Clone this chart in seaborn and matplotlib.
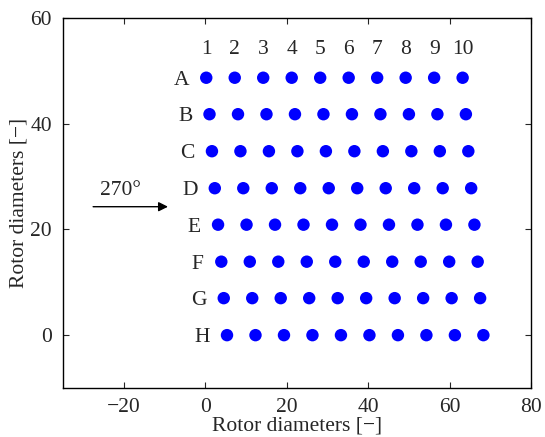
import matplotlib
matplotlib.use("Agg")
import matplotlib.pyplot as plt
import seaborn as sns
import pandas as pd

# Data
row_labels = ["A", "B", "C", "D", "E", "F", "G", "H"]
row_y = [48.7, 41.8, 34.8, 27.8, 20.9, 13.9, 7.0, 0.0]
row_shift = [0.2, 1.0, 1.6, 2.3, 3.1, 3.9, 4.5, 5.3]
col_labels = ["1", "2", "3", "4", "5", "6", "7", "8", "9", "10"]
col_x = [0, 7, 14, 21, 28, 35, 42, 49, 56, 63]
wind_label = "270°"

records = []
for r, y, s in zip(row_labels, row_y, row_shift):
    for c, x in zip(col_labels, col_x):
        records.append({"row": r, "col": c, "x": x + s, "y": y})
df = pd.DataFrame(records)

sns.set_style("ticks")
plt.rcParams["font.family"] = ["Liberation Serif", "DejaVu Serif"]

fig = plt.figure(figsize=(5.45, 4.37), dpi=100)
ax = fig.add_axes([0.1156, 0.1121, 0.8587, 0.8467])

sns.scatterplot(data=df, x="x", y="y", ax=ax, color="#0000ff", s=80,
                edgecolor="none", legend=False, zorder=3)

fs = 15.5
for r, y, s in zip(row_labels, row_y, row_shift):
    ax.text(s - 6.0, y, r, ha="center", va="center_baseline", fontsize=fs)
for c, x in zip(col_labels, col_x):
    ax.text(x + row_shift[0], 54.5, c, ha="center", va="center_baseline",
            fontsize=fs)

ax.annotate("", xy=(-9.2, 24.3), xytext=(-27.6, 24.3),
            arrowprops=dict(arrowstyle="-|>", color="black", lw=1.0,
                            mutation_scale=14, shrinkA=0, shrinkB=0))
ax.text(-20.9, 27.9, wind_label, ha="center", va="center_baseline", fontsize=fs)

ax.set_xlim(-35, 80)
ax.set_ylim(-10, 60)
ax.set_xticks([-20, 0, 20, 40, 60, 80])
ax.set_yticks([0, 20, 40, 60])
ax.set_xticklabels(["\u221220", "0", "20", "40", "60", "80"])
ax.tick_params(direction="in", top=True, right=True, length=4, width=0.8,
               labelsize=fs)
ax.tick_params(axis="x", pad=7)
ax.tick_params(axis="y", pad=8)
for sp in ax.spines.values():
    sp.set_visible(True)
    sp.set_linewidth(1.0)
    sp.set_color("black")
ax.set_xlabel("Rotor diameters [\u2212]", fontsize=fs, labelpad=0)
ax.set_ylabel("Rotor diameters [\u2212]", fontsize=fs, labelpad=1)

fig.savefig("out.png", dpi=100)
